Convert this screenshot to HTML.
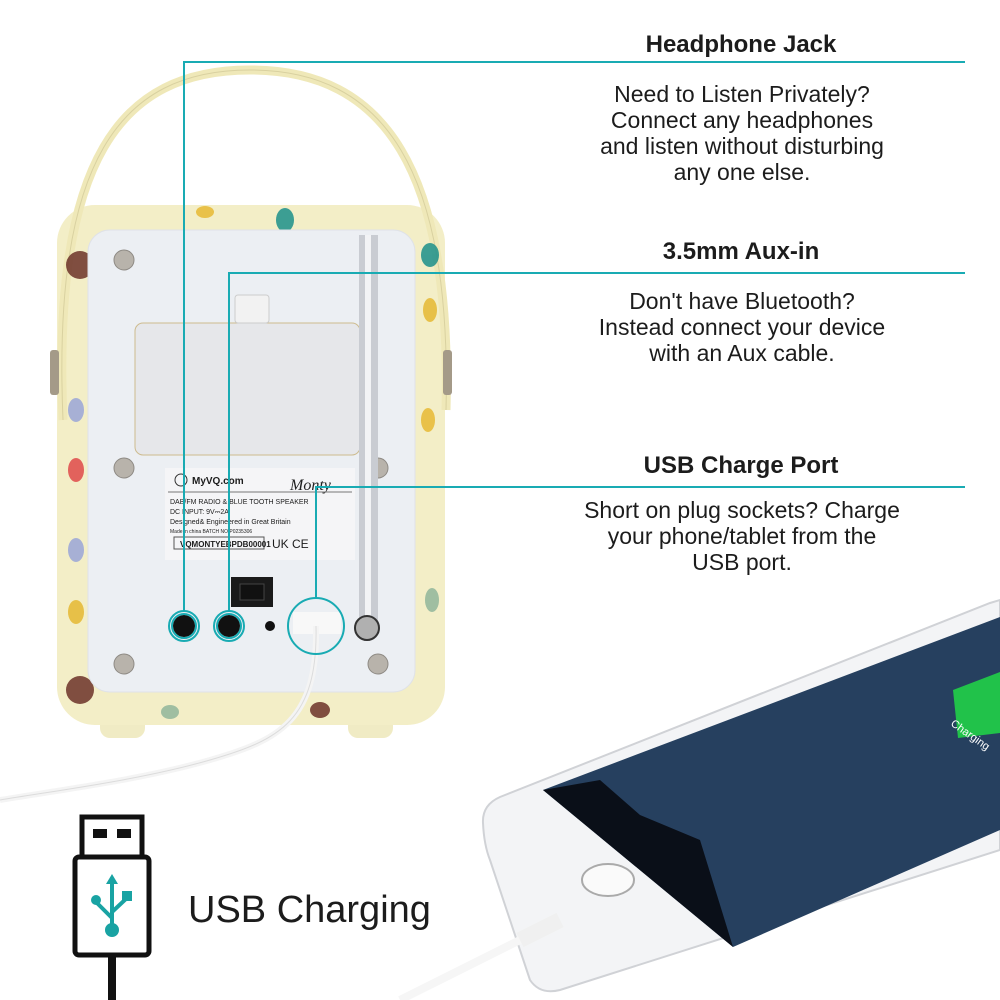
<!DOCTYPE html>
<html><head><meta charset="utf-8"><style>
body{margin:0;background:#fff;width:1000px;height:1000px;overflow:hidden}
svg{display:block}
.t{font-family:"Liberation Sans",sans-serif;fill:#1c1c1c}
</style></head><body>
<svg width="1000" height="1000" viewBox="0 0 1000 1000">
<!-- feet -->
<rect x="100" y="700" width="45" height="38" rx="10" fill="#f0ebc4"/>
<rect x="348" y="700" width="45" height="38" rx="10" fill="#f0ebc4"/>
<!-- body -->
<rect x="57" y="205" width="388" height="520" rx="38" fill="#f3eec7"/>
<!-- handle -->
<path d="M63 420 C52 160 120 70 250 70 C385 70 452 170 446 410" fill="none" stroke="#efe8b8" stroke-width="9"/>
<path d="M63 420 C52 160 120 70 250 70 C385 70 452 170 446 410" fill="none" stroke="#d9d1a0" stroke-width="1"/>
<!-- side knobs -->
<rect x="50" y="350" width="9" height="45" rx="3" fill="#a49a88"/>
<rect x="443" y="350" width="9" height="45" rx="3" fill="#a49a88"/>
<g opacity="0.85">
<ellipse cx="205" cy="212" rx="9" ry="6" fill="#e6b932"/><ellipse cx="285" cy="220" rx="9" ry="12" fill="#1b8f8a"/>
<ellipse cx="80" cy="265" rx="14" ry="14" fill="#6b3128"/><ellipse cx="76" cy="410" rx="8" ry="12" fill="#9aa6d8"/>
<ellipse cx="76" cy="470" rx="8" ry="12" fill="#e04a4a"/><ellipse cx="76" cy="550" rx="8" ry="12" fill="#9aa6d8"/>
<ellipse cx="76" cy="612" rx="8" ry="12" fill="#e6b932"/><ellipse cx="80" cy="690" rx="14" ry="14" fill="#6b3128"/>
<ellipse cx="430" cy="310" rx="7" ry="12" fill="#e6b932"/><ellipse cx="428" cy="420" rx="7" ry="12" fill="#e6b932"/>
<ellipse cx="432" cy="600" rx="7" ry="12" fill="#8fb59a"/><ellipse cx="320" cy="710" rx="10" ry="8" fill="#6b3128"/>
<ellipse cx="170" cy="712" rx="9" ry="7" fill="#8fb59a"/><ellipse cx="430" cy="255" rx="9" ry="12" fill="#1b8f8a"/>
</g>
<!-- panel -->
<rect x="88" y="230" width="327" height="462" rx="22" fill="#eceff3" stroke="#dfe2e8"/>
<rect x="135" y="323" width="225" height="132" rx="8" fill="#e6e7ea" stroke="#cdbb8e"/>
<rect x="235" y="295" width="34" height="28" rx="3" fill="#f2f2f2" stroke="#ccc"/>
<rect x="165" y="468" width="190" height="92" fill="#f5f5f7"/>
<text x="192" y="484" class="t" font-size="10" font-weight="bold">MyVQ.com</text>
<circle cx="181" cy="480" r="6" fill="none" stroke="#333"/>
<text x="290" y="490" font-family="Liberation Serif" font-style="italic" font-size="16" fill="#222">Monty</text>
<line x1="168" y1="492" x2="352" y2="492" stroke="#777"/>
<text x="170" y="504" class="t" font-size="7">DAB/FM RADIO &amp; BLUE TOOTH SPEAKER</text>
<text x="170" y="514" class="t" font-size="7">DC INPUT: 9V⎓2A</text>
<text x="170" y="524" class="t" font-size="7">Designed&amp; Engineered in Great Britain</text>
<text x="170" y="533" class="t" font-size="5">Made in china BATCH NO P0235306</text>
<rect x="174" y="537" width="90" height="12" fill="none" stroke="#555"/>
<text x="180" y="547" class="t" font-size="8" font-weight="bold">VQMONTYEBPDB00001</text>
<text x="272" y="548" class="t" font-size="12">UK CE</text>
<!-- switch -->
<rect x="231" y="577" width="42" height="30" fill="#1a1a1a"/>
<rect x="240" y="584" width="24" height="16" fill="#111" stroke="#444"/>
<!-- screws -->
<g fill="#b8b3ab" stroke="#8e8a84"><circle cx="124" cy="260" r="10"/><circle cx="124" cy="468" r="10"/><circle cx="124" cy="664" r="10"/><circle cx="378" cy="664" r="10"/><circle cx="378" cy="468" r="10"/></g>
<!-- antenna -->
<rect x="359" y="235" width="19" height="395" fill="#c9ccd2"/>
<rect x="365" y="235" width="6" height="395" fill="#f2f3f5"/>
<circle cx="367" cy="628" r="12" fill="#b0b0b0" stroke="#333" stroke-width="2"/>
<!-- jacks -->
<circle cx="184" cy="626" r="11" fill="#111"/><circle cx="229" cy="626" r="11" fill="#111"/><circle cx="270" cy="626" r="5" fill="#111"/>
<rect x="293" y="612" width="48" height="22" fill="#f8f8f8"/>
<!-- cable -->
<path d="M316 626 C318 720 280 740 210 760 C140 780 60 790 0 800" fill="none" stroke="#f4f4f4" stroke-width="6"/>
<path d="M316 626 C318 720 280 740 210 760 C140 780 60 790 0 800" fill="none" stroke="#dcdcdc" stroke-width="1"/>
<!-- cyan callouts -->
<g fill="none" stroke="#19abb3" stroke-width="2">
<polyline points="965,62 184,62 184,612"/>
<circle cx="184" cy="626" r="15"/><circle cx="184" cy="626" r="12"/>
<polyline points="965,273 229,273 229,612"/>
<circle cx="229" cy="626" r="15"/><circle cx="229" cy="626" r="12"/>
<polyline points="965,487 316,487 316,598"/>
<circle cx="316" cy="626" r="28"/>
</g>
<!-- text -->
<g class="t" text-anchor="middle" font-size="23">
<text x="741" y="52" font-weight="bold" font-size="24">Headphone Jack</text>
<text x="742" y="102">Need to Listen Privately?</text>
<text x="742" y="128">Connect any headphones</text>
<text x="742" y="154">and listen without disturbing</text>
<text x="742" y="180">any one else.</text>
<text x="741" y="259" font-weight="bold" font-size="24">3.5mm Aux-in</text>
<text x="742" y="309">Don't have Bluetooth?</text>
<text x="742" y="335">Instead connect your device</text>
<text x="742" y="361">with an Aux cable.</text>
<text x="741" y="473" font-weight="bold" font-size="24">USB Charge Port</text>
<text x="742" y="518">Short on plug sockets? Charge</text>
<text x="742" y="544">your phone/tablet from the</text>
<text x="742" y="570">USB port.</text>
</g>
<!-- phone -->
<path d="M483 823 Q482 805 500 797 L990 603 Q1000 600 1000 600 L1000 850 L560 990 Q540 995 530 980 L490 860 Q484 845 483 823Z" fill="#f3f4f6" stroke="#d0d2d6" stroke-width="2"/>
<path d="M543 790 L1000 617 L1000 830 L733 947 Z" fill="#26405f"/>
<path d="M543 790 L600 780 L640 815 L700 840 L733 947 Z" fill="#0a0f18"/>
<path d="M953 690 L1000 672 L1000 733 L958 738 Z" fill="#21c24a"/>
<text x="950" y="725" font-family="Liberation Sans" font-size="11" fill="#fff" transform="rotate(35 950 725)">Charging</text>
<ellipse cx="608" cy="880" rx="26" ry="16" fill="#fafafa" stroke="#aaa" stroke-width="2"/>
<path d="M400 1000 L520 940" stroke="#f6f6f6" stroke-width="8"/>
<path d="M520 940 L560 920" stroke="#f0f0f0" stroke-width="16"/>
<!-- usb icon -->
<g fill="none" stroke="#111" stroke-width="5">
<rect x="82" y="817" width="60" height="40"/>
<rect x="75" y="857" width="74" height="98" rx="4"/>
</g>
<rect x="93" y="829" width="14" height="9" fill="#111"/><rect x="117" y="829" width="14" height="9" fill="#111"/>
<rect x="108" y="955" width="8" height="45" fill="#111"/>
<g stroke="#19a3a3" stroke-width="4" fill="#19a3a3">
<line x1="112" y1="880" x2="112" y2="930"/>
<line x1="112" y1="918" x2="97" y2="903"/><line x1="112" y1="912" x2="127" y2="898"/>
<circle cx="112" cy="930" r="5"/><circle cx="96" cy="900" r="3"/><rect x="124" y="893" width="6" height="6"/>
</g>
<polygon points="112,874 106,884 118,884" fill="#19a3a3"/>
<text x="188" y="922" class="t" font-size="38">USB Charging</text>
</svg>
</body></html>
